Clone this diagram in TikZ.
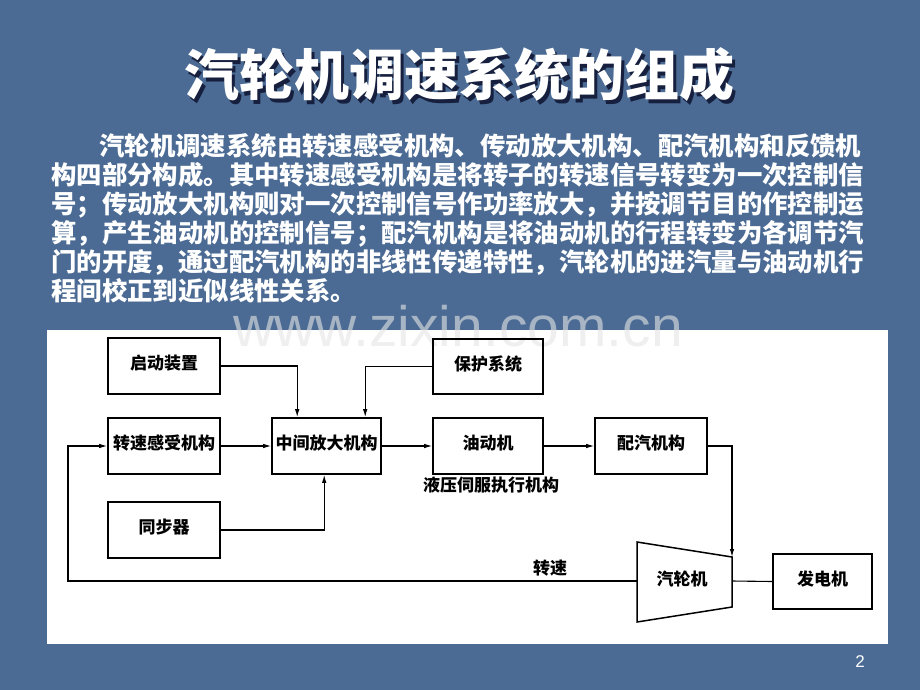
\documentclass[tikz,border=0pt]{standalone}
\usepackage{fontspec}
\newfontfamily\cjk{Noto Sans CJK SC}
\newfontfamily\arial{Liberation Sans}
\usetikzlibrary{arrows.meta,calc}
\definecolor{bgblue}{RGB}{75,107,148}
\definecolor{shadowblue}{RGB}{22,32,62}
\begin{document}
\begin{tikzpicture}[x=1pt,y=-1pt,
  cjkline/.style={anchor=west,inner sep=0pt,text=white,
    font=\cjk\bfseries\fontsize{25.4}{25.4}\selectfont,text height=0.88em,text depth=0.12em},
  blk/.style={draw=black,line width=1.6pt,inner sep=0pt,
    font=\cjk\bfseries\fontsize{17}{17}\selectfont,text height=0.88em,text depth=0.12em},
  lbl/.style={inner sep=0pt,font=\cjk\bfseries\fontsize{17}{17}\selectfont,text height=0.88em,text depth=0.12em},
  conn/.style={line width=1.1pt,-{Latex[length=8pt,width=4.5pt]}},
  plain/.style={line width=1.1pt}]
\useasboundingbox (0,0) rectangle (920,690);
\fill[bgblue] (0,0) rectangle (920,690);
% title
\node[inner sep=0pt,text=shadowblue,font=\cjk\bfseries\fontsize{55}{55}\selectfont] (titles) at (462.5,78.5) {汽轮机调速系统的组成};
\node[inner sep=0pt,text=white,font=\cjk\bfseries\fontsize{55}{55}\selectfont] (title) at (459,75) {汽轮机调速系统的组成};
% paragraph
\node[cjkline] (p1) at (99,152) {汽轮机调速系统由转速感受机构、传动放大机构、配汽机构和反馈机};
\node[cjkline] (p2) at (51,181) {构四部分构成。其中转速感受机构是将转子的转速信号转变为一次控制信};
\node[cjkline] (p3) at (51,210) {号；传动放大机构则对一次控制信号作功率放大，并按调节目的作控制运};
\node[cjkline] (p4) at (51,239) {算，产生油动机的控制信号；配汽机构是将油动机的行程转变为各调节汽};
\node[cjkline] (p5) at (51,268) {门的开度，通过配汽机构的非线性传递特性，汽轮机的进汽量与油动机行};
\node[cjkline] (p6) at (51,297) {程间校正到近似线性关系。};
% panel
\fill[white] (47,330) rectangle (888,644);
% watermark (faint, behind the drawing)
\node[anchor=base,inner sep=0pt,text=gray!20,text opacity=0.6,font=\arial\fontsize{57}{57}\selectfont] (wm) at (458,346) {www.zixin.com.cn};
% blocks
\node[blk,minimum width=112pt,minimum height=56pt] (qd) at (164,366) {启动装置};
\node[blk,minimum width=112pt,minimum height=56pt] (zs) at (164,446) {转速感受机构};
\node[blk,minimum width=112pt,minimum height=56pt] (tb) at (164,530) {同步器};
\node[blk,minimum width=109pt,minimum height=56pt] (zj) at (326.5,446) {中间放大机构};
\node[blk,minimum width=110pt,minimum height=55pt] (bh) at (488,366.5) {保护系统};
\node[blk,minimum width=110pt,minimum height=56pt] (yd) at (488,446) {油动机};
\node[blk,minimum width=112pt,minimum height=56pt] (pq) at (651,446) {配汽机构};
\node[blk,minimum width=99pt,minimum height=55pt] (fd) at (822.5,581.5) {发电机};
% turbine
\coordinate (tl) at (637,542);
\coordinate (tr) at (732,557);
\coordinate (br) at (732,607);
\coordinate (bl) at (637,622);
\draw[line width=1.5pt] (tl) -- (tr) -- (br) -- (bl) -- cycle;
\node[lbl] (tj) at (682,582) {汽轮机};
\coordinate (tre) at (732,581);
\coordinate (tle) at (637,581);
\coordinate (fbk) at (68,581);
% labels
\node[lbl] (yy) at (491,488) {液压伺服执行机构};
\node[lbl] (zsl) at (550,571) {转速};
% connectors
\draw[conn] (qd.east) -| ($(zj.north west)+(26,0)$);
\draw[conn] (bh.west) -| ($(zj.north west)+(94,0)$);
\draw[conn] (zs.east) -- (zj.west);
\draw[conn] (tb.east) -| ($(zj.south west)+(53,0)$);
\draw[conn] (zj.east) -- (yd.west);
\draw[conn] (yd.east) -- (pq.west);
\draw[conn] (pq.east) -| (tr);
\draw[plain] (tre) -- (fd.west);
\draw[conn] (tle) -- (fbk) |- (zs.west);
% page number
\node[inner sep=0pt,text=white,font=\arial\fontsize{17}{17}\selectfont] (pn) at (860,662) {2};
\end{tikzpicture}
\end{document}
